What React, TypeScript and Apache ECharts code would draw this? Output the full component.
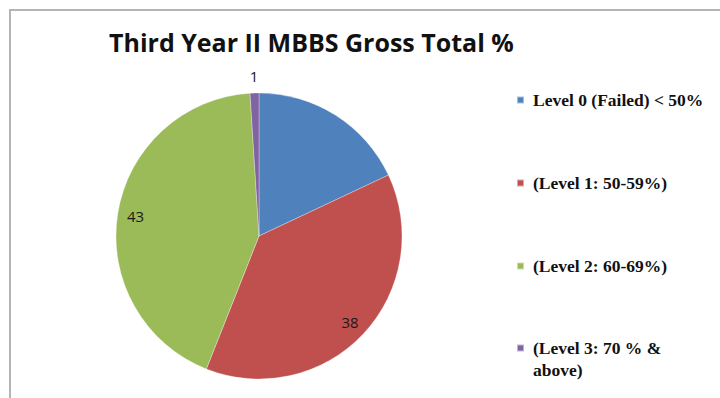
import React, { useEffect, useRef } from "react";
import * as echarts from "echarts";

const titleText = "Third Year II MBBS Gross Total %";
const categories = [
  "Level 0 (Failed) < 50%",
  "(Level 1: 50-59%)",
  "(Level 2: 60-69%)",
  "(Level 3: 70 % & above)",
];
const values = [18, 38, 43, 1];
const sliceColors = ["#4f81bd", "#c0504d", "#9bbb59", "#8064a2"];
// which labels are shown inside the pie rim, and which outside
const insideLabelShown = [false, true, true, false];
const outsideLabelShown = [false, false, false, true];

export default function App() {
  const ref = useRef<HTMLDivElement>(null);
  useEffect(() => {
    if (!ref.current) return;
    const chart = echarts.init(ref.current, null, { renderer: "svg" });
    const center = [259, 236];
    const R = 143;
    const labelFont = {
      fontFamily: "Open Sans",
      fontSize: 15,
      color: "#1a1a1a",
      formatter: "{c}",
    };
    const legendText = {
      fontFamily: "Liberation Serif",
      fontWeight: "bold",
      fontSize: 17.5,
      lineHeight: 20,
      color: "#111111",
      padding: [0, 0, 0, 4],
    };
    const legendBase = {
      orient: "vertical",
      left: 516,
      padding: 0,
      itemWidth: 7,
      itemHeight: 7,
      itemGap: 63,
      icon: "rect",
      selectedMode: false,
    };
    const last = categories[categories.length - 1];
    chart.setOption({
      animation: false,
      backgroundColor: "#ffffff",
      color: sliceColors,
      title: {
        text: titleText,
        left: 104,
        top: 24,
        textStyle: {
          fontFamily: "Open Sans",
          fontSize: 25,
          fontWeight: "bold",
          color: "#111111",
        },
      },
      legend: [
        {
          ...legendBase,
          top: 90,
          textStyle: legendText,
          data: categories.slice(0, categories.length - 1),
        },
        {
          ...legendBase,
          top: 348 - 22,
          textStyle: {
            ...legendText,
            rich: {
              a: { ...legendText, padding: 0, lineHeight: 44 },
              b: { ...legendText, padding: 0, lineHeight: 0 },
            },
          },
          data: [last],
          formatter: (name: string) => {
            const parts = name.split("& ");
            return "{a|" + parts[0] + "&}\n{b|" + parts[1] + "}";
          },
        },
      ],
      graphic: [
        {
          type: "rect",
          silent: true,
          shape: { x: 10, y: 10, width: 730, height: 420 },
          style: { fill: "none", stroke: "#b4b4b4", lineWidth: 2 },
        },
      ],
      series: [
        {
          type: "pie",
          center,
          radius: [0, R],
          startAngle: 90,
          clockwise: true,
          silent: true,
          label: { show: false },
          labelLine: { show: false },
          itemStyle: { borderColor: "rgba(255,255,255,0.5)", borderWidth: 0.6 },
          data: categories.map((c, i) => ({ name: c, value: values[i] })),
        },
        {
          type: "pie",
          center,
          radius: [101, R],
          startAngle: 90,
          clockwise: true,
          silent: true,
          legendHoverLink: false,
          itemStyle: { color: "transparent" },
          label: { show: true, position: "inside", ...labelFont },
          labelLine: { show: false },
          data: categories.map((c, i) => ({
            name: c,
            value: values[i],
            label: { show: insideLabelShown[i] },
          })),
        },
        {
          type: "pie",
          center,
          radius: [R, R + 28],
          startAngle: 90,
          clockwise: true,
          silent: true,
          legendHoverLink: false,
          itemStyle: { color: "transparent" },
          label: { show: true, position: "inside", ...labelFont },
          labelLine: { show: false },
          data: categories.map((c, i) => ({
            name: c,
            value: values[i],
            label: { show: outsideLabelShown[i] },
          })),
        },
      ],
    });
    return () => chart.dispose();
  }, []);
  return (
    <div
      ref={ref}
      style={{ position: "fixed", left: 0, top: 0, width: 720, height: 398 }}
    />
  );
}
